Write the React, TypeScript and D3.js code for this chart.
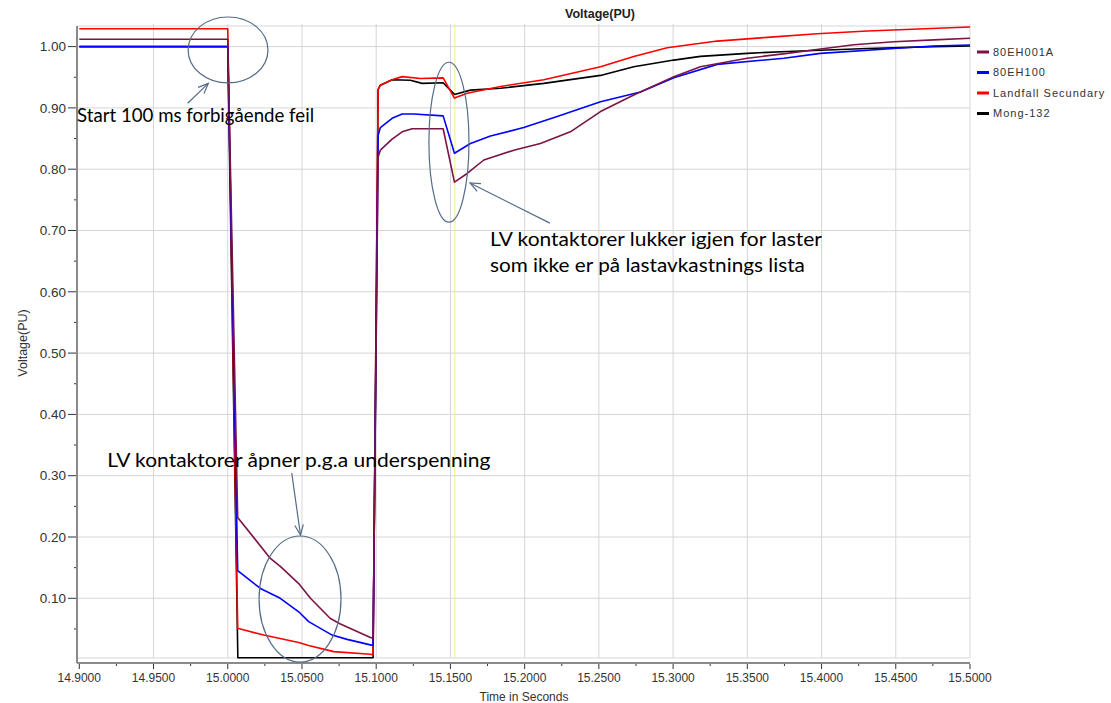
import React from "react";
import * as d3 from "d3";

// ---------- data ----------
const seriesNames = ["80EH001A", "80EH100", "Landfall Secundary", "Mong-132"];
const seriesColors = ["#7a1444", "#0000ff", "#ff0000", "#000000"];

const xTicks = [14.9, 14.95, 15.0, 15.05, 15.1, 15.15, 15.2, 15.25, 15.3, 15.35, 15.4, 15.45, 15.5];
const yTicks = [0.1, 0.2, 0.3, 0.4, 0.5, 0.6, 0.7, 0.8, 0.9, 1.0];

const eh001a: [number, number][] = [
  [14.9, 1.012], [15.0, 1.012], [15.0067, 0.232], [15.0287, 0.165], [15.0354, 0.152],
  [15.0478, 0.124], [15.0557, 0.1], [15.0691, 0.067], [15.0759, 0.058], [15.0961, 0.036],
  [15.0979, 0.035], [15.1013, 0.82], [15.1028, 0.831], [15.1107, 0.849], [15.1175, 0.861],
  [15.1242, 0.866], [15.1451, 0.866], [15.1527, 0.779], [15.1613, 0.793], [15.1725, 0.815],
  [15.1927, 0.831], [15.2106, 0.842], [15.2308, 0.861], [15.2511, 0.894], [15.2735, 0.921],
  [15.3005, 0.951], [15.3184, 0.967], [15.3499, 0.981], [15.3769, 0.989], [15.3993, 0.996],
  [15.4218, 1.003], [15.4487, 1.008], [15.4757, 1.011], [15.5, 1.0135],
];

const eh100: [number, number][] = [
  [14.9, 1.0], [15.0, 1.0], [15.0067, 0.145], [15.022, 0.116], [15.0354, 0.1],
  [15.0478, 0.078], [15.0545, 0.062], [15.0703, 0.04], [15.0804, 0.033], [15.0961, 0.024],
  [15.0979, 0.023], [15.1013, 0.855], [15.1028, 0.868], [15.1107, 0.883], [15.1175, 0.89],
  [15.1253, 0.89], [15.1451, 0.887], [15.1527, 0.826], [15.1635, 0.842], [15.177, 0.854],
  [15.1994, 0.868], [15.2219, 0.886], [15.2511, 0.91], [15.278, 0.926], [15.3005, 0.949],
  [15.3297, 0.971], [15.3746, 0.981], [15.3993, 0.989], [15.4487, 0.997], [15.4757, 1.001],
  [15.5, 1.0025],
];

const landfall: [number, number][] = [
  [14.9, 1.029], [15.0, 1.029], [15.0067, 0.051], [15.0242, 0.04], [15.0478, 0.028],
  [15.0545, 0.023], [15.0714, 0.013], [15.0961, 0.0087], [15.0979, 0.008], [15.1013, 0.93],
  [15.1028, 0.937], [15.1107, 0.946], [15.1175, 0.951], [15.1298, 0.948], [15.1451, 0.949],
  [15.1527, 0.916], [15.1613, 0.924], [15.1837, 0.935], [15.2129, 0.946], [15.2511, 0.967],
  [15.2735, 0.984], [15.296, 0.998], [15.3297, 1.009], [15.3634, 1.015], [15.3971, 1.021],
  [15.4308, 1.0255], [15.5, 1.032],
];

const mong132: [number, number][] = [
  [14.9, 1.0], [15.0, 1.0], [15.0068, 0.003], [15.0979, 0.003], [15.1013, 0.93],
  [15.1028, 0.937], [15.1107, 0.946], [15.123, 0.945], [15.1309, 0.94], [15.1451, 0.941],
  [15.1527, 0.922], [15.1635, 0.929], [15.1837, 0.932], [15.2129, 0.94], [15.2511, 0.953],
  [15.2735, 0.967], [15.3005, 0.978], [15.3184, 0.984], [15.3499, 0.989], [15.3769, 0.992],
  [15.3993, 0.994], [15.4308, 0.997], [15.4757, 1.0], [15.5, 1.001],
];

const seriesData = [eh001a, eh100, landfall, mong132];
const drawOrder = [3, 2, 1, 0];

const markerTime = 15.153;

// annotations in data units: [t, v, rt, rv]
const ellipses: [number, number, number, number][] = [
  [15.0002, 0.9945, 0.0269, 0.0538],
  [15.149, 0.844, 0.0135, 0.1305],
  [15.0487, 0.0988, 0.0276, 0.1028],
];
// arrows: [tailT, tailV, headT, headV]
const arrows: [number, number, number, number][] = [
  [14.973, 0.9075, 14.9869, 0.94],
  [15.217, 0.712, 15.1632, 0.7775],
  [15.0431, 0.3044, 15.049, 0.2033],
];
const notes: { text: string; t: number; v: number; w: number }[] = [
  { text: "Start 100 ms forbigående feil", t: 14.8985, v: 0.8775, w: 237 },
  { text: "LV kontaktorer lukker igjen for laster", t: 15.1766, v: 0.6747, w: 332 },
  { text: "som ikke er på lastavkastnings lista", t: 15.1766, v: 0.6328, w: 315 },
  { text: "LV kontaktorer åpner p.g.a underspenning", t: 14.9189, v: 0.3147, w: 383 },
];

// ---------- layout ----------
const W = 1111;
const H = 703;
const left = 79.3;
const right = 970;
const top = 26;
const bottom = 658;

export default function App() {
  const x = d3.scaleLinear().domain([14.9, 15.5]).range([left, right]);
  const y = d3.scaleLinear().domain([0.0026, 1.0336]).range([bottom, top]);
  const line = d3
    .line<[number, number]>()
    .x((d) => x(d[0]))
    .y((d) => y(d[1]));

  const minorX = d3.range(0, 12).map((i) => 14.925 + i * 0.05);
  const minorY = d3.range(0, 10).map((i) => 0.05 + i * 0.1);
  const fontAxis = "'Liberation Sans', Arial, sans-serif";
  const annColor = "#566b86";

  const arrowHead = (a: [number, number, number, number]) => {
    const x1 = x(a[0]), y1 = y(a[1]), x2 = x(a[2]), y2 = y(a[3]);
    const ang = Math.atan2(y2 - y1, x2 - x1);
    const L = 11, spread = 0.4;
    const p1 = [x2 - L * Math.cos(ang - spread), y2 - L * Math.sin(ang - spread)];
    const p2 = [x2 - L * Math.cos(ang + spread), y2 - L * Math.sin(ang + spread)];
    return `M${p1[0]},${p1[1]}L${x2},${y2}L${p2[0]},${p2[1]}`;
  };

  return (
    <svg
      width={W}
      height={H}
      style={{ position: "absolute", left: 0, top: 0, background: "#fff" }}
    >
      {/* gridlines */}
      <g stroke="#d6d6d6" strokeWidth={1}>
        {xTicks.slice(1).map((t) => (
          <line key={"gx" + t} x1={x(t)} x2={x(t)} y1={top - 2} y2={bottom} />
        ))}
        {yTicks.map((v) => (
          <line key={"gy" + v} x1={left - 2} x2={right} y1={y(v)} y2={y(v)} />
        ))}
        <line x1={left - 2} x2={right} y1={top} y2={top} />
        <line x1={left - 2} x2={right} y1={bottom} y2={bottom} />
      </g>

      {/* marker line */}
      <line x1={x(markerTime)} x2={x(markerTime)} y1={top - 2} y2={bottom} stroke="#eeee88" strokeWidth={1} />

      {/* series */}
      <g fill="none" strokeWidth={1.6} strokeLinejoin="round">
        {drawOrder.map((i) => (
          <path key={seriesNames[i]} d={line(seriesData[i]) || ""} stroke={seriesColors[i]} />
        ))}
      </g>

      {/* axes */}
      <line x1={77} x2={77} y1={top} y2={663} stroke="#8a8a8a" strokeWidth={2} />
      <line x1={77} x2={right} y1={663} y2={663} stroke="#8a8a8a" strokeWidth={2} />
      <g stroke="#333" strokeWidth={1}>
        {yTicks.map((v) => (
          <line key={"ty" + v} x1={68} x2={76} y1={y(v)} y2={y(v)} />
        ))}
        {minorY.map((v) => (
          <line key={"my" + v} x1={74} x2={76} y1={y(v)} y2={y(v)} />
        ))}
        {xTicks.map((t) => (
          <line key={"tx" + t} x1={x(t)} x2={x(t)} y1={664} y2={669} />
        ))}
        {minorX.map((t) => (
          <line key={"mx" + t} x1={x(t)} x2={x(t)} y1={664} y2={666} />
        ))}
      </g>
      <g fontFamily={fontAxis} fill="#333">
        {yTicks.map((v) => (
          <text key={"ly" + v} x={66} y={y(v)} dy="0.35em" textAnchor="end" fontSize={13.5}>
            {v.toFixed(2)}
          </text>
        ))}
        {xTicks.map((t) => (
          <text key={"lx" + t} x={x(t)} y={682} textAnchor="middle" fontSize={12}>
            {t.toFixed(4)}
          </text>
        ))}
        <text x={524} y={701} textAnchor="middle" fontSize={12}>
          Time in Seconds
        </text>
        <text transform="translate(27,343) rotate(-90)" textAnchor="middle" fontSize={12.5}>
          Voltage(PU)
        </text>
        <text x={600} y={18} textAnchor="middle" fontSize={12.5} fontWeight="bold" fill="#222">
          Voltage(PU)
        </text>
      </g>

      {/* legend */}
      <g fontFamily={fontAxis} fontSize={11} fill="#333">
        {seriesNames.map((n, i) => (
          <g key={"lg" + n} transform={`translate(977,${52 + i * 20.5})`}>
            <line x1={0} x2={12} y1={0} y2={0} stroke={seriesColors[i]} strokeWidth={3} />
            <text x={16} y={0} dy="0.35em" letterSpacing={1}>
              {n}
            </text>
          </g>
        ))}
      </g>

      {/* annotations */}
      <g fill="none" stroke={annColor} strokeWidth={1.2}>
        {ellipses.map((e, i) => (
          <ellipse
            key={"el" + i}
            cx={x(e[0])}
            cy={y(e[1])}
            rx={x(e[0] + e[2]) - x(e[0])}
            ry={y(e[1]) - y(e[1] + e[3])}
          />
        ))}
        {arrows.map((a, i) => (
          <g key={"ar" + i}>
            <line x1={x(a[0])} y1={y(a[1])} x2={x(a[2])} y2={y(a[3])} />
            <path d={arrowHead(a)} />
          </g>
        ))}
      </g>
      <g fontFamily="Lato, 'Open Sans', sans-serif" fontSize={18.5} fill="#000">
        {notes.map((n, i) => (
          <text
            key={"nt" + i}
            x={x(n.t)}
            y={y(n.v)}
            textLength={n.w}
            lengthAdjust="spacingAndGlyphs"
          >
            {n.text}
          </text>
        ))}
      </g>
    </svg>
  );
}
